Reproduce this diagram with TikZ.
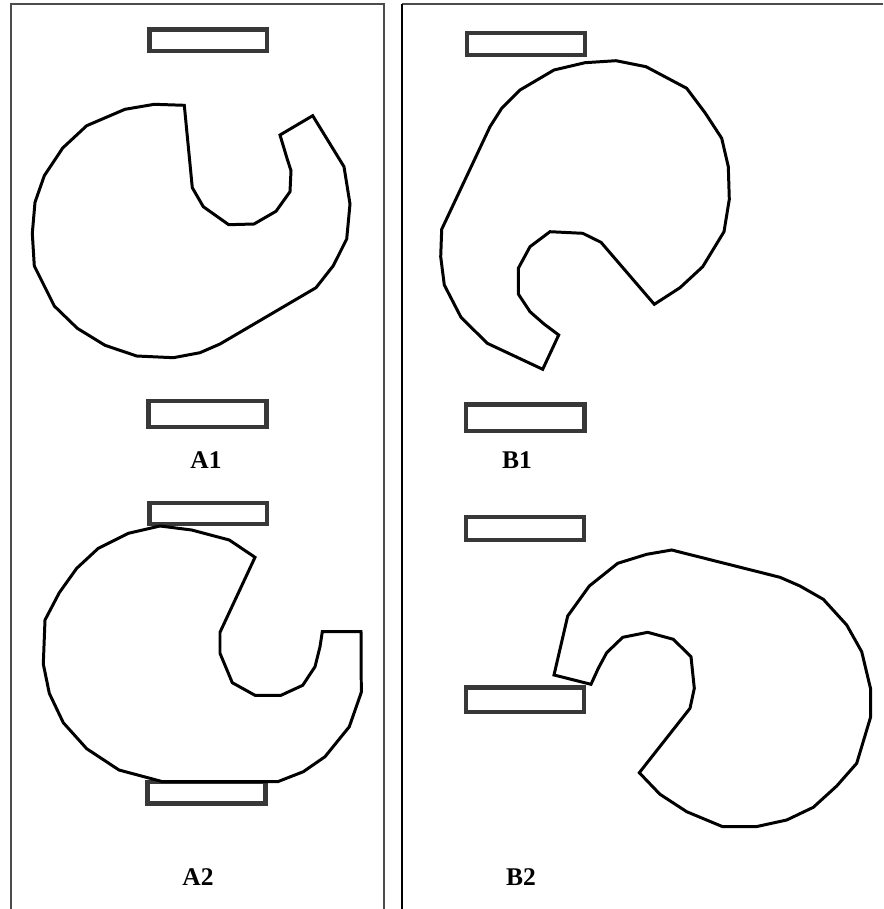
\documentclass[tikz,border=0pt]{standalone}
\usepackage{fontspec}
\setmainfont{Liberation Serif}
\begin{document}
\begin{tikzpicture}[x=0.02cm,y=-0.02cm,
  frame/.style={draw=black!70,line width=0.8pt},
  frameb/.style={draw=black,line width=0.9pt},
  bar/.style={draw=black!78,line width=2.4pt},
  blob/.style={draw=black,line width=1.7pt,line join=miter},
  lab/.style={font=\fontsize{14.5}{17}\selectfont\bfseries,inner sep=0pt}]
\useasboundingbox (0,0) rectangle (883,909);
% panel frames
\draw[frame] (11,909) -- (11,4) -- (384,4) -- (384,909);
\draw[frame] (402,4) -- (883,4);
\draw[frameb] (402,909) -- (402,4);
% ---------- A1 ----------
\draw[bar] (149.5,29.5) rectangle (267,51);
\draw[bar] (148.5,401) rectangle (266.5,427);
\draw[blob] (184.3,105.3) -- (154.3,104.3) -- (125,109.3) -- (86.7,125.7) -- (62.7,148)
  -- (44.3,175.7) -- (35,202.3) -- (32.3,233.3) -- (34.3,266) -- (54.3,306)
  -- (77.3,328.3) -- (105,345.3) -- (136.7,356) -- (173.3,357.7) -- (200,352.7)
  -- (220,344) -- (316,287.7) -- (333.3,265.7) -- (346.7,239) -- (350,204)
  -- (344,166.7) -- (312.7,115.7) -- (280,135) -- (287,158.3) -- (291,170.7)
  -- (290,191.7) -- (276,211.3) -- (254,224) -- (228.7,224.7) -- (203.3,206.7)
  -- (192.3,187.7) -- cycle;
\node[lab] (A1) at (206,460) {A1};
% ---------- A2 ----------
\draw[bar] (149.5,503) rectangle (267,524);
\draw[bar] (147.5,782) rectangle (265.5,803.5);
\draw[blob] (160,526) -- (191.7,530) -- (229.3,540) -- (255,557.3) -- (220,632.3)
  -- (220,653.3) -- (232.3,682.7) -- (255,695.3) -- (281,695.3) -- (302.7,685.3)
  -- (315,666.7) -- (320,646.7) -- (322.3,631.7) -- (361,631.7) -- (361.3,692.3)
  -- (349.3,726.7) -- (325,756.7) -- (303.3,771.7) -- (277.7,781.7) -- (162.7,781.7)
  -- (119,770) -- (86.7,748.7) -- (63.3,722.7) -- (49.3,693.3) -- (43.3,664)
  -- (45,620) -- (59.3,592.7) -- (76.7,568.3) -- (98.3,548.3) -- (128.3,533.3)
  -- cycle;
\node[lab] (A2) at (198,877) {A2};
% ---------- B1 ----------
\draw[bar] (467,33) rectangle (585,55);
\draw[bar] (466,404.5) rectangle (584.5,431);
\draw[blob] (616,60.7) -- (646,66.7) -- (686.7,88.3) -- (705,112.7) -- (721.7,138.3)
  -- (728.3,166.7) -- (729.3,199.3) -- (724,231.7) -- (702.7,266.7) -- (680,287.7)
  -- (654.3,304.3) -- (601,242.3) -- (582.7,233.3) -- (550,231.7) -- (530,246.7)
  -- (518.3,268.3) -- (518.3,294) -- (530,311.7) -- (544,324) -- (558.7,335)
  -- (542.7,369.3) -- (487.3,343.3) -- (461,317.3) -- (444.3,285) -- (440.7,256.7)
  -- (441.7,229.3) -- (490,126.7) -- (501.7,108.3) -- (520,90) -- (554,70)
  -- (585,62.7) -- cycle;
\node[lab] (B1) at (517,460) {B1};
% ---------- B2 ----------
\draw[bar] (466,517) rectangle (584,540);
\draw[bar] (466,687.5) rectangle (584,712);
\draw[blob] (671.7,550) -- (780,577.3) -- (800,586) -- (823.3,599.3) -- (846.7,625)
  -- (861.7,651.7) -- (870.7,689.3) -- (870.7,716.7) -- (856.7,763.3) -- (836.7,786)
  -- (813.3,807.3) -- (786.7,820) -- (756,826.7) -- (722.7,826.7) -- (686.7,811.7)
  -- (660,794.3) -- (639.3,772.7) -- (690,708.3) -- (694.3,688.3) -- (691,656.7)
  -- (673.3,639.3) -- (647.7,632.3) -- (622.7,637.3) -- (606.7,652.7) -- (598.3,668.3)
  -- (591,684.3) -- (554,675) -- (567.7,616) -- (589.3,586) -- (617.7,563.3)
  -- (646.7,554.3) -- cycle;
\node[lab] (B2) at (521,877) {B2};
\end{tikzpicture}
\end{document}
